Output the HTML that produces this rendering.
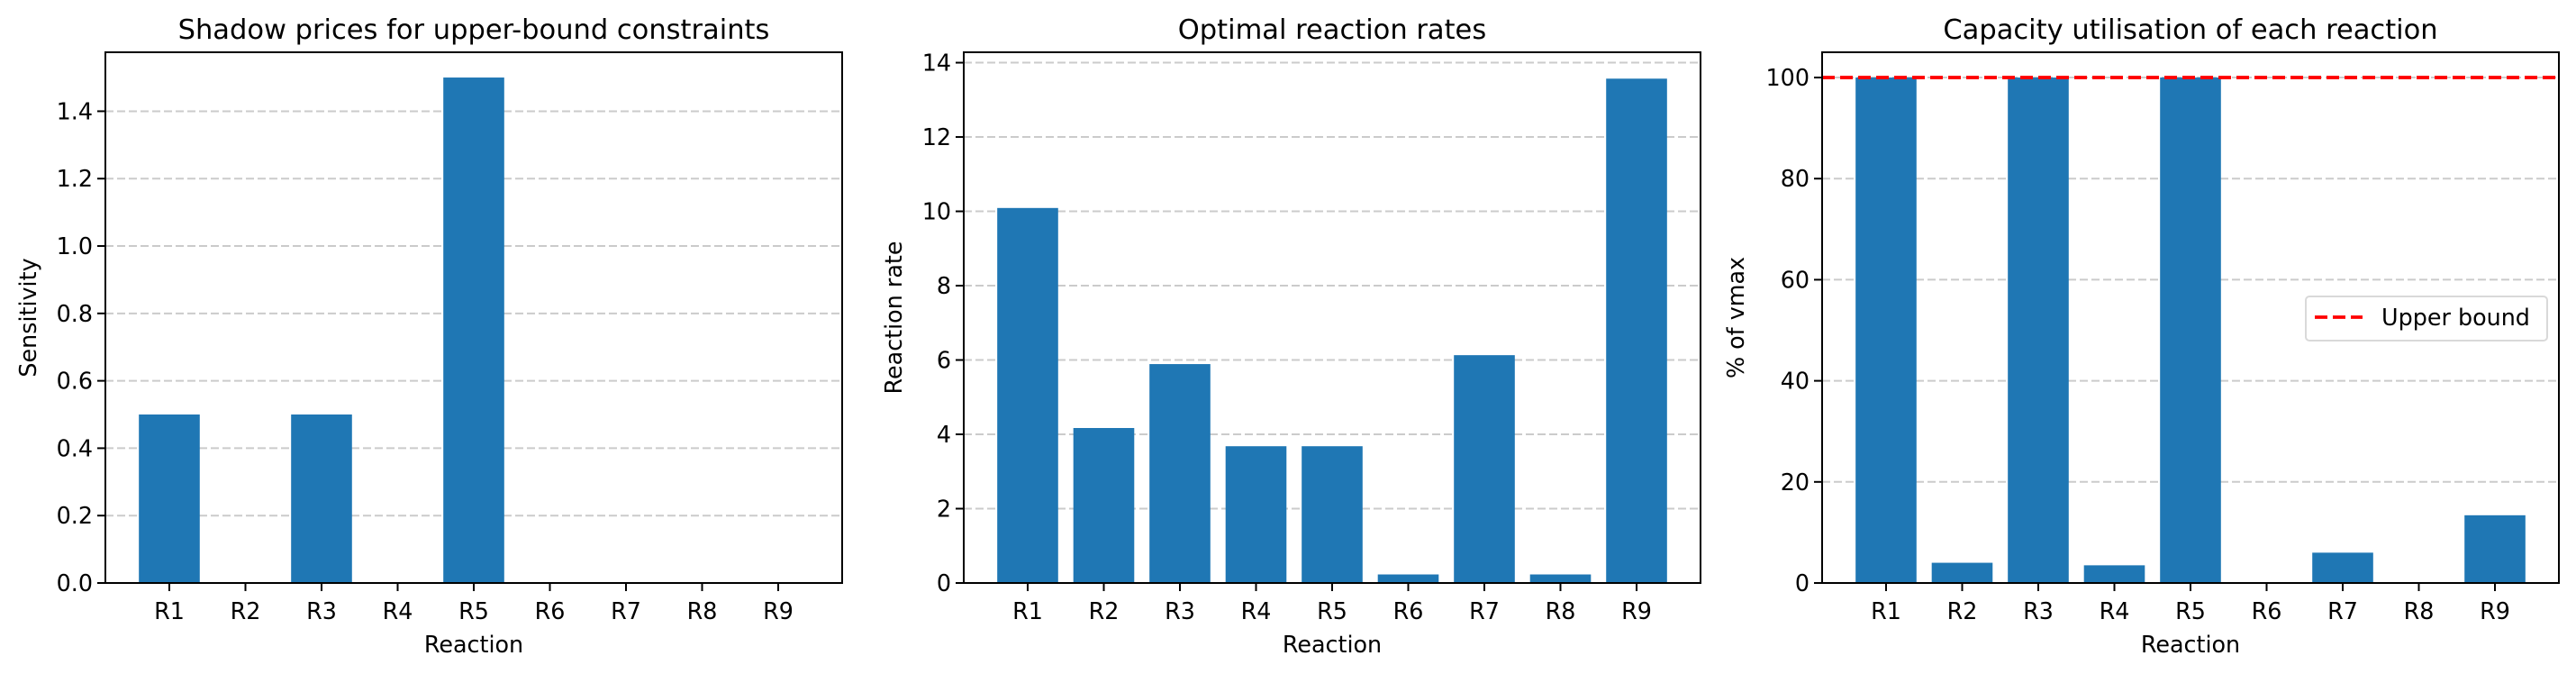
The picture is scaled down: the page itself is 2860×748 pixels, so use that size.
<!DOCTYPE html>
<html><head><meta charset="utf-8"><style>
body{margin:0;background:#fff}
svg{display:block;font-family:"DejaVu Sans","Liberation Sans",sans-serif}
</style></head><body>
<svg id="fig" width="2860" height="748" viewBox="0 0 2860 748"></svg>
<script>
const categories = ["R1","R2","R3","R4","R5","R6","R7","R8","R9"];
const shadowPrices = [0.5,0,0.5,0,1.5,0,0,0,0];
const reactionRates = [10.09,4.17,5.89,3.68,3.68,0.23,6.13,0.23,13.57];
const utilisation = [100,4.0,100,3.5,100,0,6.0,0,13.4];
const shadowTicks = [0,0.2,0.4,0.6,0.8,1.0,1.2,1.4];
const shadowTickLabels = ["0.0","0.2","0.4","0.6","0.8","1.0","1.2","1.4"];
const rateTicks = [0,2,4,6,8,10,12,14];
const utilTicks = [0,20,40,60,80,100];
const upperBound = [100];

const NS="http://www.w3.org/2000/svg";
const svg=document.getElementById('fig');
function mk(tag,attrs,parent){const e=document.createElementNS(NS,tag);for(const k in attrs)e.setAttribute(k,attrs[k]);(parent||svg).appendChild(e);return e;}

function panel(opt){
  const L=opt.left,T=58,B=647,W=818;
  const g=mk('g',{});
  
  
  const n=categories.length;
  const xmin=-0.84,xmax=n-1+0.84;
  const x=v=>L+(v-xmin)/(xmax-xmin)*W;
  const y=v=>B-(v/opt.ymax)*(B-T);
  // grid
  opt.ticks.forEach((t,i)=>{
    const gl=mk('line',{x1:L,x2:L+W,y1:y(t),y2:y(t),stroke:'#cbcbcb','stroke-width':2,'stroke-dasharray':'9,4'},g);
    
    
  });
  // bars
  opt.values.forEach((v,i)=>{
    const bw=0.8*(W/(xmax-xmin));
    const r=mk('rect',{x:x(i)-bw/2,y:y(v),width:bw,height:Math.max(0,B-y(v)),fill:'#1f77b4'},g);
    
    
  });
  if(opt.hline){
    const hl=mk('line',{x1:L,x2:L+W,y1:y(opt.hline[0]),y2:y(opt.hline[0]),stroke:'#ff0000','stroke-width':3.8,'stroke-dasharray':'14,6'},g);
    
    
  }
  // spines
  const sp=mk('rect',{x:L,y:T,width:W,height:B-T,fill:'none',stroke:'#000','stroke-width':2},g);
  
  
  // y ticks
  opt.ticks.forEach((t,i)=>{
    mk('line',{x1:L-9,x2:L,y1:y(t),y2:y(t),stroke:'#000','stroke-width':2},g);
    const tx=mk('text',{x:L-14,y:y(t)+9,'font-size':25.4,'text-anchor':'end',fill:'#000'},g);
    tx.textContent=opt.labels?opt.labels[i]:String(t);
    
    
  });
  // x ticks
  categories.forEach((c,i)=>{
    mk('line',{x1:x(i),x2:x(i),y1:B,y2:B+9,stroke:'#000','stroke-width':2},g);
    const tx=mk('text',{x:x(i),y:687,'font-size':25.4,'text-anchor':'middle',fill:'#000'},g);
    tx.textContent=c;
    
    
  });
  const t=mk('text',{x:L+W/2,y:43,'font-size':30.5,'text-anchor':'middle',fill:'#000'},g);
  t.textContent=opt.title;
  
  
  const xl=mk('text',{x:L+W/2,y:724,'font-size':25.4,'text-anchor':'middle',fill:'#000'},g);
  xl.textContent='Reaction';
  
  
  const yl=mk('text',{x:0,y:0,'font-size':25.4,'text-anchor':'middle',fill:'#000',transform:`translate(${opt.ylx},${(T+B)/2}) rotate(-90)`},g);
  yl.textContent=opt.ylabel;
  
  
  return g;
}
panel({name:'shadow-prices-chart',left:117,ymax:1.575,values:shadowPrices,ticks:shadowTicks,labels:shadowTickLabels,title:'Shadow prices for upper-bound constraints',ylabel:'Sensitivity',ylx:40});
panel({name:'reaction-rates-chart',left:1070,ymax:14.28,values:reactionRates,ticks:rateTicks,title:'Optimal reaction rates',ylabel:'Reaction rate',ylx:1001});
panel({name:'capacity-utilisation-chart',left:2023,ymax:105,values:utilisation,ticks:utilTicks,title:'Capacity utilisation of each reaction',ylabel:'% of vmax',ylx:1936,hline:upperBound});
// legend
const lg=mk('g',{});


mk('rect',{x:2560,y:329,width:268,height:49,rx:4,fill:'#fff',stroke:'#d9d9d9','stroke-width':2},lg);
const ll=mk('line',{x1:2570,x2:2623,y1:352,y2:352,stroke:'#ff0000','stroke-width':3.8,'stroke-dasharray':'14,6'},lg);


const lt=mk('text',{x:2644,y:361,'font-size':25.4,fill:'#000'},lg);
lt.textContent='Upper bound';


</script>
</body></html>
